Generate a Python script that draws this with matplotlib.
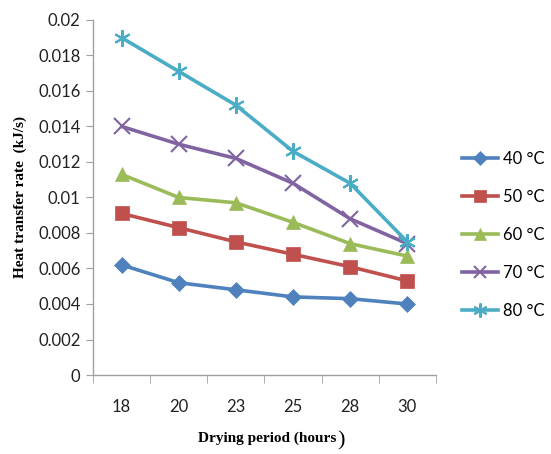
import matplotlib
matplotlib.use("Agg")
import matplotlib.pyplot as plt
import numpy as np

periods = ["18", "20", "23", "25", "28", "30"]
series_labels = ["40 °C", "50 °C", "60 °C", "70 °C", "80 °C"]
t40 = [0.0062, 0.0052, 0.0048, 0.0044, 0.0043, 0.0040]
t50 = [0.0091, 0.0083, 0.0075, 0.0068, 0.0061, 0.0053]
t60 = [0.0113, 0.0100, 0.0097, 0.0086, 0.0074, 0.0067]
t70 = [0.0140, 0.0130, 0.0122, 0.0108, 0.0088, 0.0074]
t80 = [0.0190, 0.0171, 0.0152, 0.0126, 0.0108, 0.0075]
yticks = [0, 0.002, 0.004, 0.006, 0.008, 0.01, 0.012, 0.014, 0.016, 0.018, 0.02]
ytick_labels = ["0", "0.002", "0.004", "0.006", "0.008", "0.01", "0.012",
                "0.014", "0.016", "0.018", "0.02"]

colors = ["#4F81BD", "#C0504D", "#9BBB59", "#8064A2", "#4BACC6"]
markers = ["D", "s", "^", "x", (6, 2, 0)]
msizes = [8, 10, 10, 11, 12]

tick_font = "Lato"

fig = plt.figure(figsize=(5.51, 4.54), dpi=100)
ax = fig.add_axes([0.169, 0.174, 0.622, 0.782])

x = np.arange(len(periods))
for vals, lab, c, m, ms in zip([t40, t50, t60, t70, t80], series_labels, colors, markers, msizes):
    ax.plot(x, vals, color=c, lw=2.6, marker=m, markersize=ms,
            markeredgewidth=1.5 if m in ("x",) or isinstance(m, tuple) else 0.5,
            markeredgecolor=c, markerfacecolor=c, label=lab)

ax.set_xlim(-0.5, len(periods) - 0.5)
ax.set_ylim(0, 0.02)
ax.set_yticks(yticks)
ax.set_yticklabels(ytick_labels, fontsize=12, family=tick_font, color="#222222")
ax.set_xticks(x)
ax.set_xticklabels(periods, fontsize=12, family=tick_font, color="#222222")
ax.set_xticks(np.arange(-0.5, len(periods)), minor=True)
ax.tick_params(axis="x", which="major", length=0, pad=17)
ax.tick_params(axis="x", which="minor", length=6, color="#A0A0A0", direction="out")
ax.tick_params(axis="y", which="major", length=5, color="#A0A0A0", direction="out", pad=4)

for s in ["top", "right"]:
    ax.spines[s].set_visible(False)
for s in ["left", "bottom"]:
    ax.spines[s].set_color("#A0A0A0")
    ax.spines[s].set_linewidth(1.0)

ax.set_ylabel("Heat transfer rate  (kJ/s)", family="Liberation Serif",
              fontweight="bold", fontsize=11, labelpad=8)
fig.text(0.61, 0.026, "Drying period (hours", family="Liberation Serif",
         fontweight="bold", fontsize=11, ha="right", va="baseline")
fig.text(0.612, 0.018, ")", family="Liberation Serif", fontsize=16,
         ha="left", va="baseline")

leg = fig.legend(loc="upper left", bbox_to_anchor=(0.838, 0.667),
                 frameon=False, prop={"family": tick_font, "size": 12},
                 handlelength=2.2, handletextpad=0.3, labelspacing=1.32,
                 borderpad=0, borderaxespad=0, markerscale=0.85)

fig.savefig("out.png", dpi=100)
